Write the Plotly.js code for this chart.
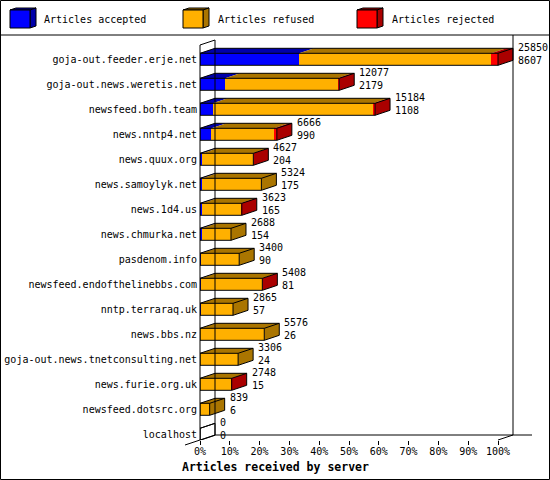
<!DOCTYPE html>
<html><head><meta charset="utf-8">
<script src="https://cdn.plot.ly/plotly-3.0.1.min.js"></script>
<style>html,body{margin:0;padding:0;background:#fff}#chart{width:550px;height:480px}</style>
</head><body><div id="chart"></div>
<script>
// ---- data ----
const categories = ["goja-out.feeder.erje.net","goja-out.news.weretis.net","newsfeed.bofh.team","news.nntp4.net","news.quux.org","news.samoylyk.net","news.1d4.us","news.chmurka.net","pasdenom.info","newsfeed.endofthelinebbs.com","nntp.terraraq.uk","news.bbs.nz","goja-out.news.tnetconsulting.net","news.furie.org.uk","newsfeed.dotsrc.org","localhost"];
const totalArticles = [25850,12077,15184,6666,4627,5324,3623,2688,3400,5408,2865,5576,3306,2748,839,0];
const accepted = [8607,2179,1108,990,204,175,165,154,90,81,57,26,24,15,6,0];
const refused  = [16668,9748,13926,5446,4393,5149,3358,2534,3310,5302,2808,5550,3282,2713,833,0];
const rejected = [575,150,150,230,30,0,100,0,0,25,0,0,0,20,0,0];
const seriesNames = ["Articles accepted","Articles refused","Articles rejected"];
const xTickLabels = ["0%","10%","20%","30%","40%","50%","60%","70%","80%","90%","100%"];
const xTickVals = [0,10,20,30,40,50,60,70,80,90,100];

// ---- geometry ----
const W=550,H=480,L=200,R=18,T=40,B=40;
const plotW=W-L-R, plotH=H-T-B;
const pxPerPct=2.98, rowPx=25;
const xMax=plotW/pxPerPct;
const yTopVal=-(59.3-T)/rowPx;
const yBotVal=yTopVal+plotH/rowPx;
const dX=15/pxPerPct, dY=5/rowPx, halfH=6/rowPx;
const FONT="DejaVu Sans Mono";
const front=["#0000FF","#FFB000","#FF0000"];
const dark=["#0000AA","#AA7500","#AA0000"];

const maxTotal=Math.max(...totalArticles);
const series=[accepted,refused,rejected].map(a=>a.map(v=>v/maxTotal*100));
const rows=categories.map((c,i)=>i);

const traces=[];
series.forEach((s,k)=>{
  traces.push({type:'bar',orientation:'h',y:rows,x:s,width:2*halfH,
    marker:{color:front[k],line:{width:0}},showlegend:false,hoverinfo:'skip',name:seriesNames[k]});
});

// top and side faces
const faceX=[[],[],[]], faceY=[[],[],[]];
const olX=[], olY=[];
rows.forEach(i=>{
  const yt=i-halfH, yb=i+halfH;
  let a=0, last=-1;
  series.forEach((s,k)=>{
    const b=a+s[i];
    if(s[i]>0){
      faceX[k].push(a,b,b+dX,a+dX,a,null);
      faceY[k].push(yt,yt,yt-dY,yt-dY,yt,null);
      last=k;
    }
    a=b;
  });
  if(last>=0){
    faceX[last].push(a,a+dX,a+dX,a,a,null);
    faceY[last].push(yt,yt-dY,yb-dY,yb,yt,null);
  }
  // outline
  olX.push(0,0,dX,a+dX,a,0,null, 0,a,a,null, a+dX,a+dX,a,null);
  olY.push(yb,yt,yt-dY,yt-dY,yt,yt,null, yb,yb,yt,null, yt-dY,yb-dY,yb,null);
});
faceX.forEach((fx,k)=>{
  traces.push({type:'scatter',mode:'none',x:fx,y:faceY[k],fill:'toself',fillcolor:dark[k],
    showlegend:false,hoverinfo:'skip',connectgaps:false});
});
traces.push({type:'scatter',mode:'lines',x:olX,y:olY,line:{color:'#000',width:1},
  showlegend:false,hoverinfo:'skip',connectgaps:false});

// annotations: values
const annotations=rows.map(i=>{
  const end=series[0][i]+series[1][i]+series[2][i];
  return {x:end+dX+3/pxPerPct,y:i-0.22,xref:'x',yref:'y',xanchor:'left',yanchor:'middle',
    text:totalArticles[i]+'<br>'+accepted[i],showarrow:false,align:'left',
    font:{family:FONT,size:10,color:'#000'}};
});
const PX=p=>(p-L)/plotW, PY=p=>(H-B-p)/plotH;
// legend
const legX=[10,183,357], legTX=[42,216,390];
const shapes=[];
const line=(x0,y0,x1,y1)=>shapes.push({type:'line',xref:'paper',yref:'paper',x0:PX(x0),y0:PY(y0),x1:PX(x1),y1:PY(y1),line:{color:'#000',width:1}});
const path=(pts,fill)=>shapes.push({type:'path',xref:'paper',yref:'paper',
  path:'M'+pts.map(p=>PX(p[0])+','+PY(p[1])).join(' L')+' Z',fillcolor:fill,line:{color:'#000',width:1}});
legX.forEach((x0,k)=>{
  path([[x0,10],[x0+20,10],[x0+26,8],[x0+6,8]],dark[k]);
  path([[x0+20,10],[x0+26,8],[x0+26,26],[x0+20,28]],dark[k]);
  path([[x0,10],[x0+20,10],[x0+20,28],[x0,28]],front[k]);
  annotations.push({xref:'paper',yref:'paper',x:PX(legTX[k]),y:PY(20),xanchor:'left',yanchor:'middle',
    text:seriesNames[k],showarrow:false,font:{family:FONT,size:10,color:'#000'}});
});
// frame
shapes.push({type:'rect',xref:'paper',yref:'paper',x0:PX(0.5),y0:PY(0.5),x1:PX(549.5),y1:PY(479.5),line:{color:'#000',width:1}});
line(0,35,550,35);
line(200,45,200,440);
line(215,40,215,435);
line(200,45,215,40);
line(185,445,215,435);
line(215,435,532,435);
line(513,35,513,435);
line(498,440,513,435);
annotations.push({xref:'paper',yref:'paper',x:PX(275),y:PY(467),xanchor:'center',yanchor:'middle',
  text:'<b>Articles received by server</b>',showarrow:false,font:{family:FONT,size:11.5,color:'#000'}});

const layout={width:W,height:H,margin:{l:L,r:R,t:T,b:B},paper_bgcolor:'#fff',plot_bgcolor:'#fff',
  barmode:'stack',showlegend:false,font:{family:FONT,size:10,color:'#000'},
  xaxis:{range:[0,xMax],tickvals:xTickVals,ticktext:xTickLabels,ticks:'outside',ticklen:4,tickcolor:'#000',
    ticklabelstandoff:-2,
    showgrid:false,zeroline:false,showline:false,tickfont:{family:FONT,size:10,color:'#000'},fixedrange:true},
  yaxis:{range:[yBotVal,yTopVal],tickvals:rows,ticktext:categories,ticks:'',showgrid:false,zeroline:false,
    ticklabelstandoff:2,
    showline:false,tickfont:{family:FONT,size:10,color:'#000'},fixedrange:true},
  shapes:shapes,annotations:annotations};
Plotly.newPlot('chart',traces,layout,{displayModeBar:false,staticPlot:true});
</script></body></html>
